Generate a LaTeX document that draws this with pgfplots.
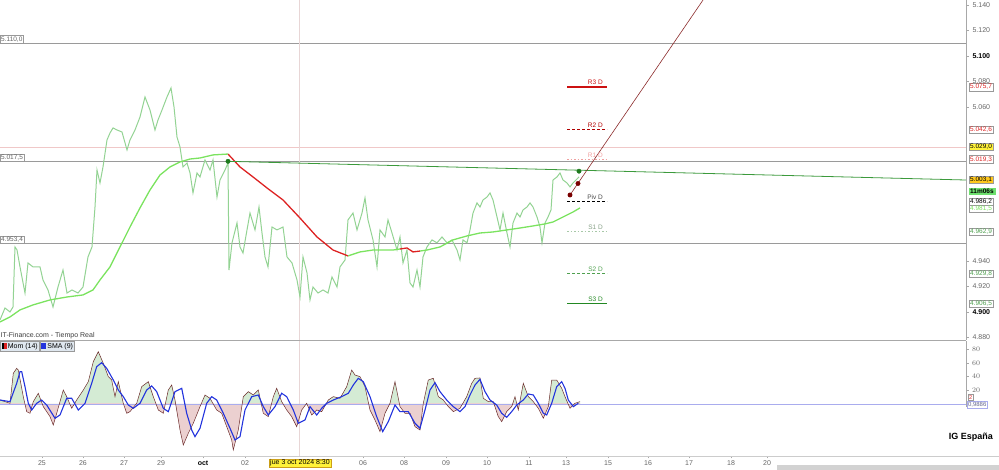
\documentclass[border=0pt]{standalone}
\usepackage{pgfplots}
\pgfplotsset{compat=1.18}
\usepackage{fontspec}
\setmainfont{Liberation Sans}
\definecolor{candle}{HTML}{93D393}
\definecolor{smagreen}{HTML}{7BE35F}
\definecolor{smared}{HTML}{DD2222}
\definecolor{labgray}{HTML}{666666}
\definecolor{boxgray}{HTML}{999999}
\definecolor{axgray}{HTML}{A8A8A8}
\definecolor{levgray}{HTML}{9A9A9A}
\definecolor{pinkline}{HTML}{F0C8C8}
\definecolor{cross}{HTML}{E8D6D6}
\definecolor{trendgreen}{HTML}{3C9A3C}
\definecolor{dotgreen}{HTML}{1E7A1E}
\definecolor{trendred}{HTML}{8B2A2A}
\definecolor{dotred}{HTML}{7A0000}
\definecolor{rthree}{HTML}{CC1111}
\definecolor{rtwo}{HTML}{B00000}
\definecolor{rone}{HTML}{F0A0A0}
\definecolor{sone}{HTML}{A8C8A8}
\definecolor{stwo}{HTML}{4FA04F}
\definecolor{sthree}{HTML}{228822}
\definecolor{momc}{HTML}{6B2A2A}
\definecolor{smablue}{HTML}{2233DD}
\definecolor{zeroc}{HTML}{A9ACEE}
\definecolor{posfill}{HTML}{D4EBD4}
\definecolor{negfill}{HTML}{EBD0D0}
\definecolor{legfill}{HTML}{DFE7EF}
\definecolor{yel}{HTML}{FFF23A}
\definecolor{orng}{HTML}{FFC81E}
\definecolor{grn}{HTML}{6EE06E}
\pgfplotstableread{
x y
0 5.8
10 1.0
13.3 44.8
16.7 52.1
18.3 49.6
23.3 10.7
26.7 -11.2
30 -13.6
33.3 3.4
38.3 15.6
43.3 -3.9
50 -18.5
53.3 -30.7
56.7 -13.6
63.3 20.4
66.7 10.7
71.7 -6.3
76.7 5.8
83.3 20.4
88.3 32.6
93.3 61.8
98.3 76.4
103.3 59.4
108.3 39.9
111.7 35.0
115 10.7
118.3 32.6
123.3 1.0
126.7 -13.6
130 -11.2
136.7 1.0
141.7 25.3
148.3 32.6
153.3 10.7
158.3 -8.8
163.3 -13.6
168.3 20.4
171.7 27.7
175 5.8
180 -38.0
183.3 -59.9
188.3 -42.8
193.3 -28.2
200 -3.9
205 13.1
210 8.3
216.7 -8.8
221.7 -13.6
226.7 -33.1
231.7 -52.6
233.3 -67.2
238.3 -38.0
243.3 10.7
248.3 18.0
253.3 13.1
258.3 20.4
263.3 -13.6
268.3 -18.5
273.3 10.7
276.7 22.9
281.7 3.4
286.7 -8.8
291.7 -18.5
296.7 -33.1
301.7 -8.8
306.7 1.0
311.7 -16.1
316.7 -8.8
321.7 -11.2
328.3 5.8
333.3 10.7
340 8.3
346.7 25.3
351.7 49.6
355 42.3
360 39.9
365 25.3
370 -8.8
375 -23.4
380 -40.4
385 -13.6
390 1.0
395 32.6
400 -3.9
405 -13.6
410 -13.6
415 -33.1
420 -38.0
423.3 1.0
428.3 35.0
433.3 37.5
438.3 10.7
443.3 5.8
448.3 -3.9
453.3 -11.2
460 -6.3
466.7 10.7
471.7 30.2
475 37.5
480 38.0
483.3 8.3
488.3 3.4
493.3 3.4
498.3 -18.5
501.7 -25.8
506.7 -11.2
511.7 -3.9
515 10.7
518.3 -8.8
523.3 30.2
528.3 10.7
533.3 3.4
538.3 -6.3
543.3 -20.9
548.3 -3.9
551.7 35.0
556.7 35.0
561.7 22.9
565 10.7
570 -6.3
575 1.0
580 3.4
}\momtable
\begin{document}
\begin{tikzpicture}
\path (0pt,0pt) rectangle (999pt,470pt);
\tikzset{
 rlab/.style={draw=boxgray, fill=white, inner sep=1pt, font=\fontsize{6.5}{7}\selectfont, anchor=west, xshift=3pt},
 llab/.style={draw=boxgray, fill=white, inner sep=1pt, font=\fontsize{6.5}{7}\selectfont, text=labgray, anchor=south west},
 plab/.style={inner sep=1pt, font=\fontsize{6.5}{7}\selectfont, anchor=south east},
}
% ================= PRICE PANEL =================
\begin{axis}[
 at={(0pt,130pt)}, anchor=south west, scale only axis,
 width=966pt, height=340pt,
 xmin=0, xmax=966, ymin=4878.1, ymax=5143.75,
 axis line style={draw=none},
 xtick=\empty,
 ytick={4880,4900,4920,4940,5060,5080,5100,5120,5140},
 yticklabels={4.880,{\color{black}\textbf{4.900}},4.920,4.940,5.060,5.080,{\color{black}\textbf{5.100}},5.120,5.140},
 ytick pos=right, yticklabel pos=right,
 y tick label style={font=\fontsize{7}{8}\selectfont, text=labgray},
 tick align=outside, major tick length=3pt, tick style={axgray},
 clip mode=individual,
]
\addplot[levgray, line width=0.8pt] coordinates {(0,5110) (966,5110)};
\addplot[levgray, line width=0.8pt] coordinates {(0,5017.5) (966,5017.5)};
\addplot[levgray, line width=0.8pt] coordinates {(0,4953.4) (966,4953.4)};
\addplot[pinkline, line width=0.6pt] coordinates {(0,5029) (966,5029)};
\addplot[cross, line width=0.8pt] coordinates {(299,4878.1) (299,5143.75)};
\addplot[candle, line width=1pt] coordinates {
(0,4893.8) (5,4903.1) (10,4900) (13,4903.9) (15,4950.8) (17,4948.5) (20,4935.2) (25,4914.8)
(28,4938.3) (33,4935.2) (40,4935.2) (43,4925.0) (48,4917.2) (53,4903.9) (58,4919.5) (63,4932.8)
(67,4914.8) (72,4917.2) (78,4914.8) (83,4919.5) (88,4943.0) (92,4950.8) (95,4982.0) (97,5010.9)
(100,5000.8) (103,5013.3) (107,5034.4) (110,5039.8) (113,5043.8) (117,5042.2) (122,5040.6)
(127,5026.6) (130,5034.4) (135,5042.2) (140,5052.3) (145,5068.0) (150,5057.8) (155,5042.2)
(158,5050.0) (162,5057.8) (167,5068.0) (171,5075.0) (174,5060.2) (177,5036.7) (180,5028.9)
(183,5013.3) (187,5016.4) (190,5008.6) (193,4993.0) (197,5008.6) (200,5005.5) (205,5018.8)
(210,5010.9) (213,5018.8) (217,4989.8) (220,5003.1) (225,5010.9) (228,5016.4) (229,4932.8)
(232,4954.0) (237,4969.5) (240,4950.8) (243,4946.1) (247,4964.1) (250,4977.3) (255,4964.1)
(259,4982.0) (262,4961.7) (265,4943.0) (268,4935.2) (272,4966.4) (277,4964.1) (283,4966.4)
(287,4943.0) (292,4938.3) (297,4925.0) (300,4911.7) (303,4943.0) (307,4930.5) (310,4909.4)
(313,4919.5) (318,4914.8) (323,4917.2) (328,4914.8) (332,4927.4) (337,4919.5) (340,4935.2)
(345,4940.6) (348,4971.9) (353,4977.3) (357,4964.1) (362,4977.3) (365,4989.1) (368,4971.9)
(373,4956.3) (377,4935.2) (380,4964.1) (385,4958.6) (388,4971.9) (392,4961.7) (397,4948.5)
(400,4958.6) (403,4938.3) (407,4948.5) (410,4922.7) (413,4919.5) (417,4932.8) (420,4919.5)
(423,4943.0) (427,4950.8) (432,4956.3) (437,4954.0) (442,4958.6) (447,4954.0) (452,4956.3)
(457,4948.5) (460,4940.6) (463,4956.3) (467,4954.0) (470,4964.1) (473,4977.3) (477,4985.2)
(480,4982.0) (483,4987.5) (487,4989.8) (490,4993.0) (493,4987.5) (497,4974.2) (500,4964.1)
(503,4977.3) (507,4961.7) (510,4950.8) (513,4969.5) (517,4977.3) (520,4974.2) (523,4979.7)
(527,4982.0) (530,4985.2) (533,4982.0) (537,4974.2) (540,4966.4) (542,4954.0) (545,4969.5)
(548,4974.2) (551,4979.7) (553,5003.1) (557,5005.5) (560,5008.6) (563,5003.1) (567,5000.8)
(570,4997.7) (573,5000.8) (576,5003.1) (579,5005.5)
};
\addplot[smagreen, line width=1.3pt] coordinates {
(0,4892.2) (10,4896.1) (20,4901.6) (33,4905.5) (50,4909.4) (67,4911.7) (83,4913.3) (93,4917.2)
(100,4925.0) (110,4935.2) (120,4950.8) (130,4966.4) (140,4981.3) (150,4995.3) (160,5007.0)
(170,5013.3) (180,5017.2) (190,5019.5) (200,5020.3) (213,5022.7) (228,5023.4)
};
\addplot[smared, line width=1.3pt] coordinates {
(228,5023.4) (240,5013.3) (253,5005.5) (267,4996.9) (283,4987.5) (300,4973.4) (317,4958.6)
(333,4948.4) (348,4943.8)
};
\addplot[smagreen, line width=1.3pt] coordinates {
(348,4943.8) (360,4946.9) (373,4948.4) (393,4948.4) (400,4949.2)
};
\addplot[smared, line width=1.3pt] coordinates {
(400,4949.2) (407,4950.0) (413,4946.9) (420,4947.6)
};
\addplot[smagreen, line width=1.3pt] coordinates {
(420,4947.6) (427,4948.4) (440,4950.8) (453,4956.3) (467,4959.4) (480,4961.7) (493,4962.5)
(507,4964.1) (520,4965.6) (533,4967.2) (545,4968.8) (553,4970.3) (563,4974.2) (573,4978.1)
(580,4981.3)
};
\addplot[trendgreen, line width=0.8pt] coordinates {(228,5017.7) (966,5003.1)};
\addplot[trendred, line width=0.6pt] coordinates {(570,4991.4) (712,5154.0)};
\addplot[only marks, mark=*, mark size=2.2pt, dotgreen] coordinates {(228,5017.7) (579,5010.0)};
\addplot[only marks, mark=*, mark size=2.2pt, dotred] coordinates {(570,4991.4) (578,5000.4)};
\addplot[rthree, line width=1.4pt] coordinates {(567,5075.7) (607,5075.7)};
\addplot[rtwo, line width=1.1pt, dash pattern=on 2.5pt off 2.5pt] coordinates {(567,5042.6) (607,5042.6)};
\addplot[rone, line width=1.1pt, dash pattern=on 1.5pt off 2pt] coordinates {(567,5019.3) (607,5019.3)};
\addplot[black, line width=1.1pt, dash pattern=on 2.5pt off 2.5pt] coordinates {(567,4986.2) (607,4986.2)};
\addplot[sone, line width=1pt, dash pattern=on 1.5pt off 2pt] coordinates {(567,4962.9) (607,4962.9)};
\addplot[stwo, line width=1.1pt, dash pattern=on 2.5pt off 2.5pt] coordinates {(567,4929.8) (607,4929.8)};
\addplot[sthree, line width=1.4pt] coordinates {(567,4906.5) (607,4906.5)};
\node[plab, text=rthree] at (axis cs:604,5076.5) {R3 D};
\node[plab, text=rtwo] at (axis cs:604,5043.4) {R2 D};
\node[plab, text=rone] at (axis cs:604,5020.1) {R1 D};
\node[plab, text=labgray!70!black] at (axis cs:604,4987.0) {Piv D};
\node[plab, text=sone!80!black] at (axis cs:604,4963.7) {S1 D};
\node[plab, text=stwo] at (axis cs:604,4930.6) {S2 D};
\node[plab, text=sthree] at (axis cs:604,4907.3) {S3 D};
\node[llab] at (axis cs:0,5110) {5.110,0};
\node[llab] at (axis cs:0,5017.5) {5.017,5};
\node[llab] at (axis cs:0,4953.4) {4.953,4};
\node[rlab, text=smared] at (axis cs:966,5075.7) {5.075,7};
\node[rlab, text=smared] at (axis cs:966,5042.6) {5.042,6};
\node[rlab, fill=yel, text=black] at (axis cs:966,5029.0) {5.029,0};
\node[rlab, text=smared] at (axis cs:966,5019.3) {5.019,3};
\node[rlab, fill=orng, text=black] at (axis cs:966,5003.1) {5.003,1};
\node[rlab, fill=grn, draw=grn, text=black, font=\fontsize{6.5}{7}\selectfont\bfseries] at (axis cs:966,4994.2) {11m06s};
\node[rlab, text=black] at (axis cs:966,4986.2) {4.986,2};
\node[rlab, text=smagreen] at (axis cs:966,4980.5) {4.981,5};
\node[rlab, text=stwo] at (axis cs:966,4962.9) {4.962,9};
\node[rlab, text=stwo] at (axis cs:966,4929.8) {4.929,8};
\node[rlab, text=stwo] at (axis cs:966,4906.5) {4.906,5};
\node[anchor=south west, inner sep=0.5pt, font=\fontsize{7}{8}\selectfont, text=labgray!60!black] at (axis cs:0,4878.1) {IT-Finance.com - Tiempo Real};
\draw[axgray, line width=0.8pt] (rel axis cs:1,0) -- (rel axis cs:1,1);
\draw[axgray, line width=0.8pt] (rel axis cs:0,0) -- (rel axis cs:1,0);
\end{axis}
% ================= MOMENTUM PANEL =================
\begin{axis}[
 at={(0pt,14pt)}, anchor=south west, scale only axis,
 width=966pt, height=115pt,
 xmin=0, xmax=966, ymin=-76, ymax=92,
 axis line style={draw=none},
 xtick={42,83,124,161,203,245,363,404,446,487,529,566,608,648,689,731,767},
 xticklabels={25,26,27,29,{\color{black}\textbf{oct}},02,06,08,09,10,11,13,15,16,17,18,20},
 xtick pos=bottom,
 x tick label style={font=\fontsize{7}{8}\selectfont, text=labgray, yshift=1pt},
 ytick={20,40,60,80},
 ytick pos=right, yticklabel pos=right,
 y tick label style={font=\fontsize{7}{8}\selectfont, text=labgray},
 tick align=outside, major tick length=2.5pt, tick style={axgray},
 clip mode=individual,
]
\addplot[cross, line width=0.8pt] coordinates {(299,-76) (299,92)};
\begin{scope}
\clip (axis cs:0,0) rectangle (axis cs:966,92);
\addplot[fill=posfill, draw=none] table {\momtable} \closedcycle;
\end{scope}
\begin{scope}
\clip (axis cs:0,-76) rectangle (axis cs:966,0);
\addplot[fill=negfill, draw=none] table {\momtable} \closedcycle;
\end{scope}
\addplot[zeroc, line width=0.9pt] coordinates {(0,0) (966,0)};
\addplot[momc, line width=0.5pt] table {\momtable};
\addplot[smablue, line width=1.1pt] coordinates {
(0,5.8) (10,3.4) (16.7,30.2) (20,47.2) (21.7,47.2) (25,25.3) (28.3,1.0) (31.7,-8.8) (36.7,1.0)
(41.7,5.8) (46.7,-1.5) (55,-20.9) (60,-16.1) (66.7,8.3) (71.7,8.3) (78.3,-8.8) (85,1.0)
(91.7,30.2) (96.7,54.5) (101.7,60.3) (106.7,52.1) (113.3,35.0) (118.3,20.4) (123.3,10.7)
(128.3,-1.5) (133.3,-6.3) (140,1.0) (146.7,20.4) (151.7,26.3) (156.7,18.0) (163.3,-6.3)
(168.3,-11.2) (175,18.0) (181.7,22.9) (186.7,-13.6) (191.7,-38.0) (195,-47.7) (200,-35.5)
(206.7,1.0) (211.7,10.7) (216.7,5.8) (223.3,-13.6) (230,-35.5) (235,-52.6) (240,-47.7)
(245,-8.8) (251.7,10.7) (258.3,13.1) (263.3,-3.9) (268.3,-16.1) (275,-3.9) (281.7,15.6)
(286.7,10.7) (293.3,-8.8) (298.3,-28.2) (305,-23.4) (310,-3.9) (316.7,-16.1) (321.7,-6.3)
(326.7,1.0) (333.3,5.8) (341.7,10.7) (348.3,15.6) (353.3,27.7) (358.3,37.5) (363.3,32.6)
(370,10.7) (376.7,-18.5) (382.7,-40.4) (388.3,-25.8) (395,-1.5) (400,-11.2) (408.3,-11.2)
(415,-28.2) (420,-35.5) (425,-8.8) (430,20.4) (435,31.1) (440,18.0) (446.7,5.8) (453.3,-3.9)
(460,-11.2) (465,-3.9) (470,13.1) (475,27.7) (480,36.0) (485,18.0) (490,5.8) (496.7,-1.5)
(501.7,-13.6) (506.7,-19.5) (511.7,-11.2) (516.7,-1.5) (523.3,5.8) (528.3,14.6) (533.3,13.1)
(538.3,1.0) (543.3,-13.6) (546.7,-16.1) (551.7,1.0) (556.7,25.3) (561.7,32.6) (565,22.9)
(568.3,5.8) (573.3,-3.9) (578.3,1.0)
};
\node[draw=boxgray, fill=legfill, anchor=north west, inner sep=1.5pt, font=\fontsize{7}{8}\selectfont] (lg1) at (axis cs:0,92)
 {\textcolor{black}{\rule{2pt}{6pt}}\textcolor{smared}{\rule{3pt}{6pt}}\,Mom (14)};
\node[draw=boxgray, fill=legfill, anchor=north west, inner sep=1.5pt, font=\fontsize{7}{8}\selectfont] at (lg1.north east)
 {\textcolor{smablue}{\rule{5pt}{6pt}}\,SMA (9)};
\node[draw=boxgray, fill=white, inner sep=0.8pt, anchor=west, font=\fontsize{5.5}{6}\selectfont, text=smared, xshift=2pt] at (axis cs:966,10) {2};
\node[draw=zeroc, fill=white, inner sep=0.8pt, anchor=west, font=\fontsize{6}{6}\selectfont, text=zeroc!60!black, xshift=1pt] at (axis cs:966,-1) {0,9886};
\node[fill=yel, draw=orng!80!black, inner sep=1pt, font=\fontsize{7}{8}\selectfont, yshift=-7pt] at (axis cs:300,-76) {jue 3 oct 2024 8:30};
\node[anchor=east, inner sep=0pt, font=\fontsize{9}{10}\selectfont\bfseries, xshift=27pt] at (axis cs:966,-48) {IG España};
\draw[axgray, line width=0.8pt] (rel axis cs:1,1) -- (axis cs:966,-5);
\end{axis}
\draw[gray!40, line width=0.8pt] (0pt,14pt) -- (999pt,14pt);
\fill[gray!35] (777pt,0pt) rectangle (999pt,5pt);
\pgfresetboundingbox
\useasboundingbox (0pt,0pt) rectangle (999pt,470pt);
\end{tikzpicture}
\end{document}
